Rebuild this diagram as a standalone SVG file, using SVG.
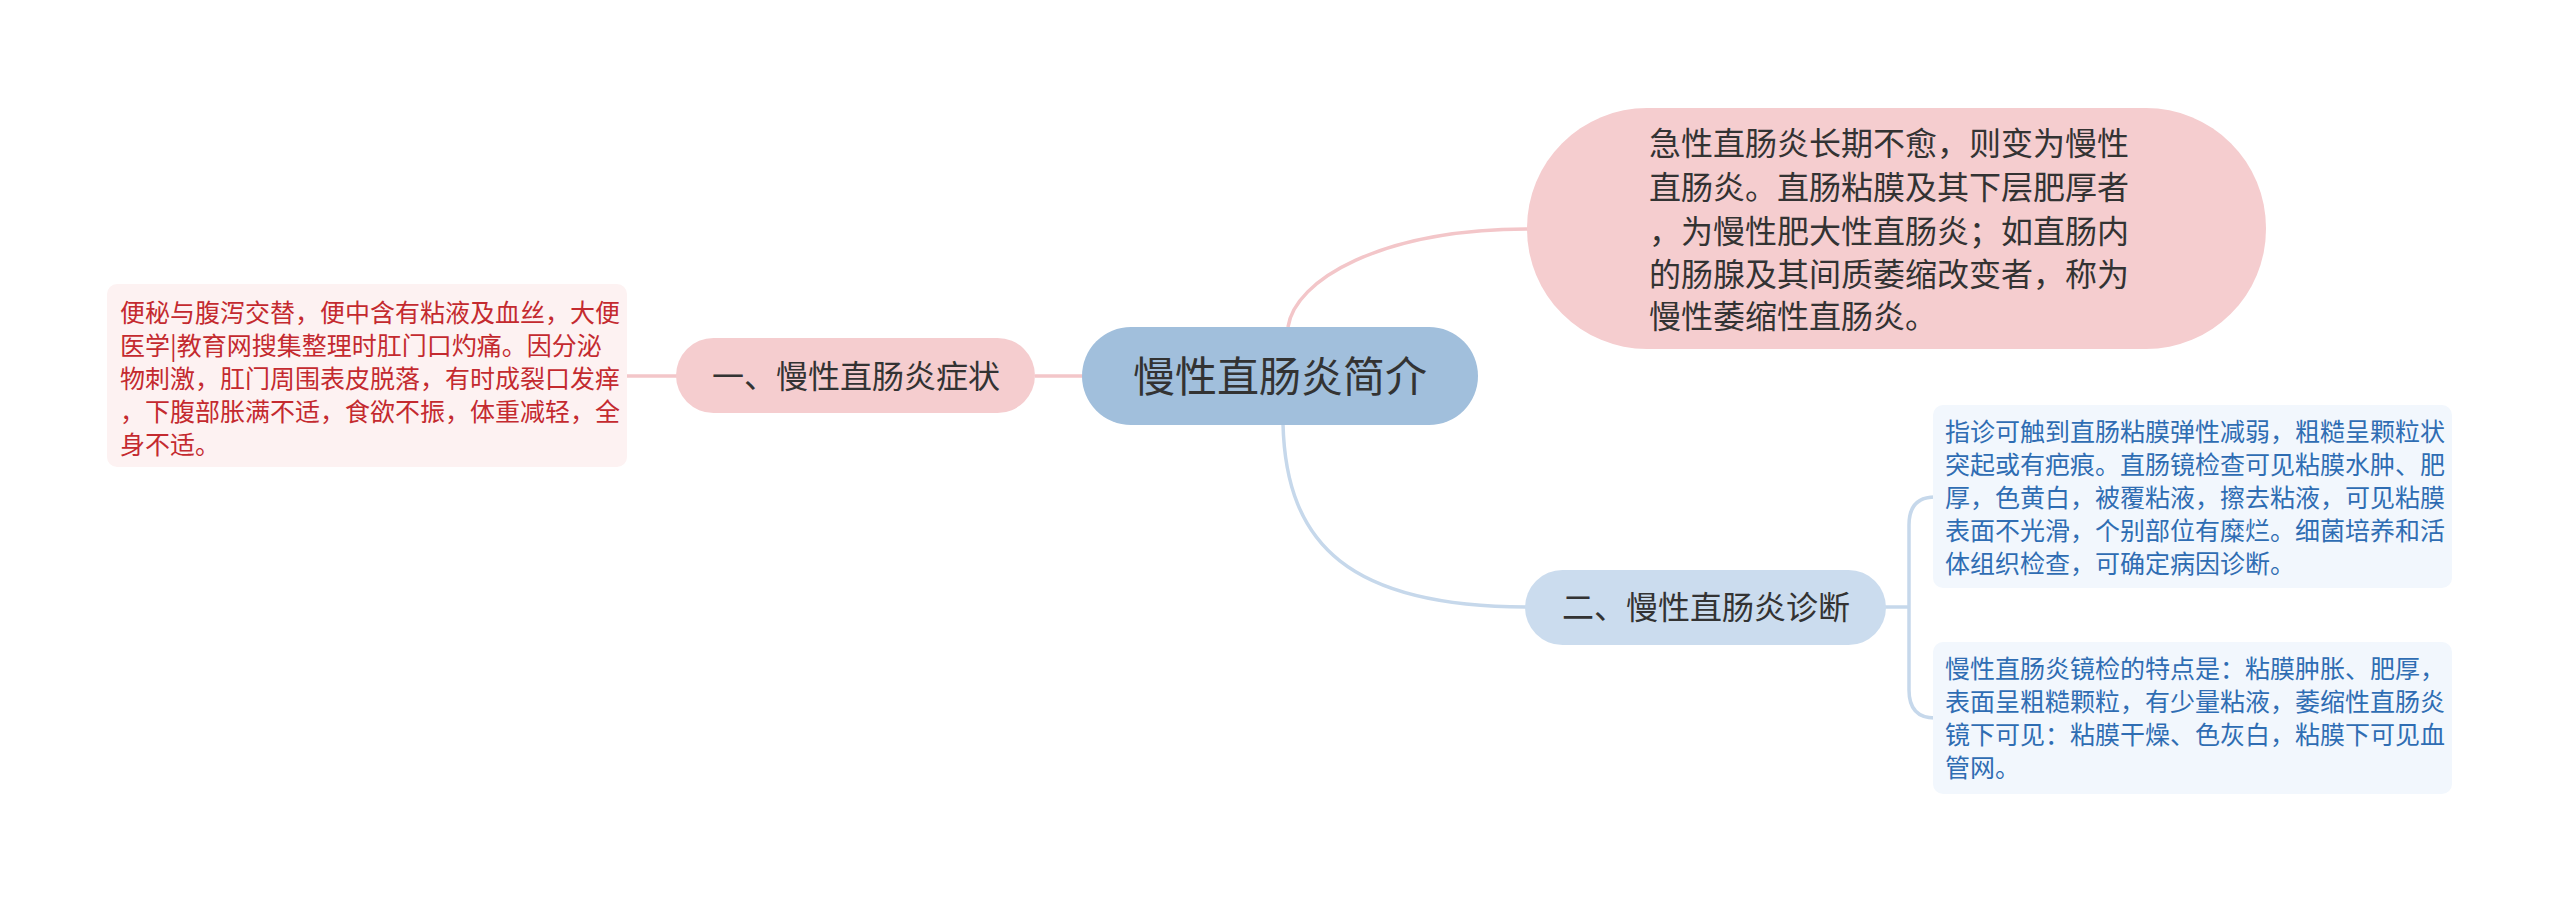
<svg xmlns="http://www.w3.org/2000/svg" width="2560" height="901" viewBox="0 0 2560 901">
<style>
text{font-family:"Noto Sans CJK SC","Noto Sans",sans-serif;}
.t0{font-size:42px;fill:#333333;text-anchor:middle;}
.t1{font-size:32px;fill:#333333;text-anchor:middle;}
.t1l{font-size:32px;fill:#333333;}
.tr{font-size:25px;fill:#c42a2f;}
.tb{font-size:25px;fill:#2f6db3;}
.pk{fill:none;stroke:#f3c6c9;stroke-width:3.5;}
.bl{fill:none;stroke:#c6d8eb;stroke-width:3.5;}
</style>
<rect width="2560" height="901" fill="#ffffff"/>
<g id="connectors">
<path class="pk" d="M1288,327 C1295,280 1380,229 1530,229"/>
<path class="pk" d="M1035,376 H1084"/>
<path class="pk" d="M627,376 H678"/>
<path class="bl" d="M1283,424 C1286,545 1350,607 1528,607"/>
<path class="bl" d="M1884,607 H1909"/>
<path class="bl" d="M1909,607 V525 Q1909,497 1935,497"/>
<path class="bl" d="M1909,607 V690 Q1909,718 1935,718"/>
</g>
<g id="root">
<rect x="1082" y="327" width="396" height="98" rx="49" fill="#a1bfdc"/>
<text class="t0" x="1280" y="392">慢性直肠炎简介</text>
</g>
<g id="n-definition">
<rect x="1527" y="108" width="739" height="241" rx="120" fill="#f5cdcf"/>
<text class="t1l" x="1649" y="155">急性直肠炎长期不愈，则变为慢性</text>
<text class="t1l" x="1649" y="199">直肠炎。直肠粘膜及其下层肥厚者</text>
<text class="t1l" x="1649" y="243">，为慢性肥大性直肠炎；如直肠内</text>
<text class="t1l" x="1649" y="286">的肠腺及其间质萎缩改变者，称为</text>
<text class="t1l" x="1649" y="328">慢性萎缩性直肠炎。</text>
</g>
<g id="n-symptoms">
<rect x="676" y="338" width="359" height="75" rx="37.5" fill="#f5cdcf"/>
<text class="t1" x="856" y="388">一、慢性直肠炎症状</text>
</g>
<g id="n-symptoms-detail">
<rect x="107" y="284" width="520" height="183" rx="10" fill="#fdf2f2"/>
<text class="tr" x="120" y="322">便秘与腹泻交替，便中含有粘液及血丝，大便</text>
<text class="tr" x="120" y="355">医学|教育网搜集整理时肛门口灼痛。因分泌</text>
<text class="tr" x="120" y="388">物刺激，肛门周围表皮脱落，有时成裂口发痒</text>
<text class="tr" x="120" y="421">，下腹部胀满不适，食欲不振，体重减轻，全</text>
<text class="tr" x="120" y="454">身不适。</text>
</g>
<g id="n-diagnosis">
<rect x="1525" y="570" width="361" height="75" rx="37.5" fill="#cbdcee"/>
<text class="t1" x="1706" y="619">二、慢性直肠炎诊断</text>
</g>
<g id="n-diagnosis-1">
<rect x="1933" y="405" width="519" height="183" rx="10" fill="#f2f7fd"/>
<text class="tb" x="1945" y="441">指诊可触到直肠粘膜弹性减弱，粗糙呈颗粒状</text>
<text class="tb" x="1945" y="474">突起或有疤痕。直肠镜检查可见粘膜水肿、肥</text>
<text class="tb" x="1945" y="507">厚，色黄白，被覆粘液，擦去粘液，可见粘膜</text>
<text class="tb" x="1945" y="540">表面不光滑，个别部位有糜烂。细菌培养和活</text>
<text class="tb" x="1945" y="573">体组织检查，可确定病因诊断。</text>
</g>
<g id="n-diagnosis-2">
<rect x="1933" y="642" width="519" height="152" rx="10" fill="#f2f7fd"/>
<text class="tb" x="1945" y="678">慢性直肠炎镜检的特点是：粘膜肿胀、肥厚，</text>
<text class="tb" x="1945" y="711">表面呈粗糙颗粒，有少量粘液，萎缩性直肠炎</text>
<text class="tb" x="1945" y="744">镜下可见：粘膜干燥、色灰白，粘膜下可见血</text>
<text class="tb" x="1945" y="777">管网。</text>
</g>
</svg>
